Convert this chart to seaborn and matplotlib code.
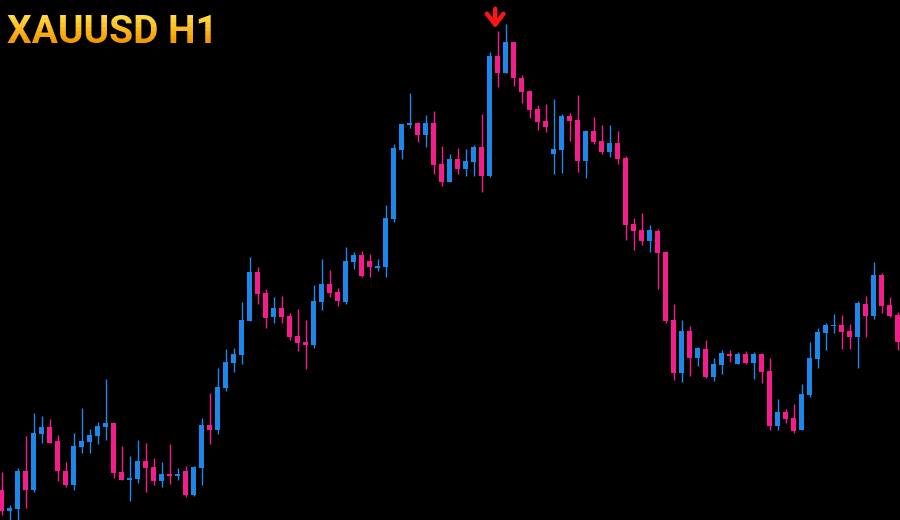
import numpy as np
import pandas as pd
import seaborn as sns
import matplotlib.pyplot as plt
from matplotlib.transforms import Bbox, TransformedBbox

# hourly OHLC candles
opens = [2010.0, 1989.3, 1991.0, 2029.0, 2010.0, 2066.0, 2073.3, 2059.3, 2029.3, 2015.0,
         2053.3, 2058.3, 2064.3, 2073.3, 2077.3, 2028.0, 2020.0, 2021.0, 2039.3, 2033.0,
         2019.3, 2026.0, 2024.3, 2029.3, 2005.0, 2031.7, 2075.0, 2070.0, 2111.7, 2137.3,
         2145.0, 2179.0, 2228.0, 2207.3, 2183.3, 2192.0, 2184.0, 2164.0, 2158.0, 2155.0,
         2198.3, 2216.0, 2208.0, 2198.3, 2238.3, 2245.0, 2239.0, 2232.0, 2233.3, 2281.3,
         2350.0, 2375.3, 2377.3, 2365.3, 2376.7, 2336.0, 2318.3, 2341.0, 2331.0, 2338.3,
         2353.3, 2324.3, 2444.0, 2426.7, 2458.0, 2421.7, 2409.3, 2391.0, 2379.3, 2346.0,
         2350.0, 2384.0, 2380.0, 2339.3, 2369.3, 2359.3, 2348.3, 2357.3, 2342.3, 2276.0,
         2270.0, 2259.0, 2269.3, 2248.3, 2180.0, 2127.3, 2169.3, 2142.3, 2151.0, 2122.7,
         2135.0, 2146.0, 2136.0, 2146.0, 2137.3, 2146.0, 2129.0, 2074.0, 2087.7, 2081.7,
         2070.0, 2105.0, 2141.0, 2167.3, 2174.0, 2175.0, 2169.0, 2163.3, 2196.0, 2184.3,
         2225.0, 2195.0, 2185.0]
highs = [2028.3, 1995.0, 2032.5, 2064.3, 2086.7, 2084.3, 2081.0, 2065.0, 2038.3, 2067.3,
         2092.3, 2071.0, 2078.3, 2121.0, 2077.3, 2054.0, 2044.0, 2060.0, 2057.3, 2041.7,
         2037.7, 2056.0, 2031.7, 2034.3, 2034.3, 2081.7, 2106.7, 2131.7, 2151.0, 2152.3,
         2198.0, 2243.3, 2232.7, 2210.7, 2202.7, 2204.0, 2186.7, 2190.7, 2180.0, 2215.0,
         2240.7, 2230.0, 2211.7, 2252.7, 2248.0, 2249.3, 2246.0, 2240.7, 2295.0, 2355.7,
         2376.0, 2406.7, 2378.3, 2385.0, 2389.0, 2354.0, 2346.0, 2351.7, 2351.0, 2355.0,
         2386.0, 2448.3, 2469.3, 2476.0, 2458.0, 2425.0, 2410.0, 2395.0, 2396.0, 2401.0,
         2386.0, 2387.3, 2405.0, 2370.0, 2383.3, 2375.0, 2375.0, 2369.3, 2344.0, 2282.3,
         2287.3, 2275.0, 2270.7, 2249.3, 2196.0, 2180.0, 2174.0, 2152.7, 2160.0, 2141.7,
         2150.0, 2150.0, 2148.3, 2149.0, 2148.3, 2147.3, 2142.3, 2101.0, 2091.0, 2096.0,
         2116.0, 2157.7, 2171.7, 2176.7, 2186.0, 2185.0, 2176.0, 2199.3, 2204.0, 2237.7,
         2226.7, 2203.3, 2188.3]
lows = [1985.0, 1978.0, 1978.0, 1991.7, 2008.3, 2057.3, 2057.3, 2019.3, 2012.7, 2010.0,
        2047.3, 2046.7, 2056.0, 2060.0, 2021.7, 2020.0, 1999.3, 2017.3, 2008.3, 2015.0,
        2013.3, 2016.0, 2020.0, 2003.3, 2004.0, 2015.0, 2056.0, 2066.0, 2109.0, 2128.3,
        2136.0, 2179.0, 2196.0, 2172.3, 2177.3, 2177.3, 2160.0, 2149.3, 2130.7, 2151.7,
        2190.0, 2202.7, 2194.3, 2196.0, 2231.3, 2222.7, 2223.3, 2229.3, 2222.7, 2278.3,
        2341.0, 2371.7, 2358.3, 2353.3, 2326.0, 2314.3, 2318.3, 2326.0, 2324.3, 2324.3,
        2308.3, 2323.3, 2413.3, 2426.7, 2414.0, 2397.3, 2381.7, 2370.0, 2368.0, 2326.0,
        2326.7, 2359.3, 2328.3, 2322.3, 2356.0, 2345.7, 2343.3, 2336.0, 2260.0, 2250.0,
        2255.0, 2248.3, 2211.0, 2177.3, 2120.0, 2118.3, 2124.0, 2134.3, 2122.5, 2119.3,
        2126.0, 2138.3, 2136.0, 2136.0, 2121.0, 2117.3, 2070.0, 2070.0, 2077.3, 2066.7,
        2070.0, 2103.3, 2132.3, 2150.0, 2166.7, 2150.7, 2151.0, 2131.7, 2163.3, 2180.7,
        2186.7, 2183.3, 2150.0]
closes = [1989.5, 1992.5, 2029.0, 2010.0, 2067.3, 2073.3, 2057.3, 2029.3, 2015.0, 2054.0,
          2059.3, 2065.0, 2074.3, 2077.3, 2027.3, 2020.0, 2022.3, 2039.3, 2032.3, 2019.3,
          2026.0, 2024.3, 2026.0, 2005.0, 2032.7, 2075.0, 2070.0, 2113.3, 2138.0, 2146.0,
          2180.0, 2228.0, 2206.0, 2182.3, 2192.0, 2183.3, 2163.3, 2157.3, 2155.0, 2199.3,
          2216.0, 2207.3, 2199.3, 2239.0, 2245.0, 2224.0, 2232.7, 2234.0, 2282.0, 2351.7,
          2376.0, 2377.3, 2365.3, 2376.7, 2335.0, 2318.3, 2341.0, 2331.0, 2339.0, 2353.3,
          2324.3, 2444.0, 2426.7, 2458.0, 2421.7, 2408.3, 2390.0, 2378.0, 2373.3, 2351.0,
          2384.0, 2379.3, 2339.3, 2369.3, 2357.7, 2347.7, 2357.3, 2341.0, 2275.0, 2269.3,
          2259.0, 2270.0, 2247.3, 2179.0, 2127.3, 2169.3, 2142.3, 2151.7, 2123.0, 2136.0,
          2147.3, 2144.3, 2146.0, 2136.7, 2146.0, 2128.3, 2074.0, 2087.7, 2081.0, 2069.0,
          2106.0, 2141.7, 2167.7, 2175.0, 2175.0, 2168.3, 2163.3, 2197.3, 2184.3, 2225.0,
          2194.3, 2184.3, 2158.3]

signal_bar = 62          # bar with the sell arrow
title = "XAUUSD H1"

bull_col = "#1E88EA"
bear_col = "#F51D8C"

df = pd.DataFrame({"open": opens, "high": highs, "low": lows, "close": closes})
df["bar"] = np.arange(len(df))
df["up"] = df["close"] >= df["open"]
df["body_lo"] = df[["open", "close"]].min(axis=1)
df["body_h"] = (df["close"] - df["open"]).abs().clip(lower=1.5)
df["col"] = np.where(df["up"], bull_col, bear_col)

sns.set_theme(style="dark", rc={"axes.facecolor": "black", "figure.facecolor": "black"})

fig = plt.figure(figsize=(9, 5.2), dpi=100)
ax = fig.add_axes([0, 0, 1, 1])

# wicks then bodies
ax.vlines(df["bar"], df["low"], df["high"], colors=df["col"], linewidth=1.0)
ax.bar(df["bar"], df["body_h"], bottom=df["body_lo"], width=0.62,
       color=df["col"], linewidth=0)

# sell arrow above the top
ax.annotate("", xy=(signal_bar - 0.3, highs[signal_bar] + 2.5),
            xytext=(0, 14), textcoords="offset points",
            arrowprops=dict(arrowstyle="->,head_length=0.65,head_width=0.5",
                            color="#FF1414", lw=3.2, shrinkA=0, shrinkB=0))

ax.set_xlim(-0.2, 112.3)
ax.set_ylim(1980, 2500)
ax.axis("off")

# gold title: real text, shaded top (yellow) to bottom (orange) in thin bands
top_px, base_px = 10, 43
grad = sns.blend_palette(["#FFE54F", "#FBBE27", "#F29A00"], 8)
for k, c in enumerate(grad):
    y0 = 1 - (top_px + (base_px - top_px) * (k + 1) / len(grad)) / 520
    y1 = 1 - (top_px + (base_px - top_px) * k / len(grad)) / 520
    if k == 0:
        y1 = 1.0
    if k == len(grad) - 1:
        y0 = 0.85
    t = fig.text(0.008, 1 - base_px / 520, title, color=c, fontsize=28,
                 fontweight="bold", family=["Roboto", "DejaVu Sans"],
                 va="baseline", ha="left")
    t.set_clip_box(TransformedBbox(Bbox([[0, y0], [0.4, y1]]), fig.transFigure))
    t.set_clip_on(True)

fig.savefig("out.png", dpi=100, facecolor="black")
